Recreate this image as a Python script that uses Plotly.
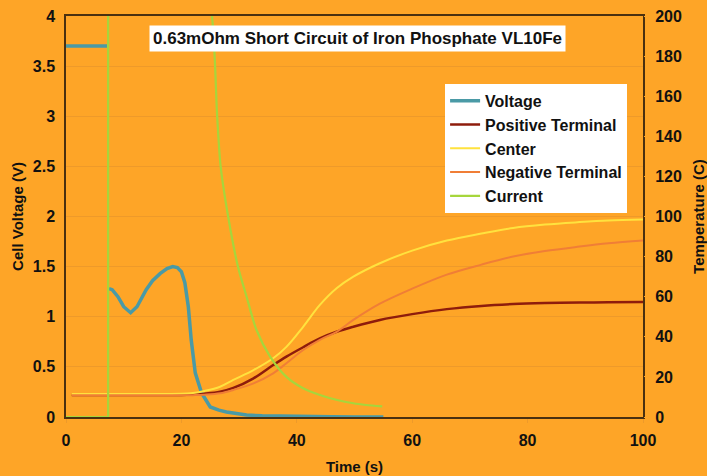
import plotly.graph_objects as go

# ---- data ----
volt_t = [0, 7.1, None, 7.45, 8.0, 9.0, 10.0, 11.2, 12.3, 13.9, 15.0, 16.3, 17.5, 18.5, 19.3, 20.0, 20.6, 21.2, 21.7, 22.4, 23.5, 25.0, 26.5, 27.8, 29.5, 31.3, 34, 38, 42, 46, 50, 55]
volt_v = [3.7, 3.7, None, 1.28, 1.27, 1.2, 1.1, 1.04, 1.1, 1.27, 1.36, 1.43, 1.48, 1.50, 1.49, 1.45, 1.34, 1.10, 0.77, 0.44, 0.24, 0.10, 0.068, 0.05, 0.032, 0.02, 0.012, 0.007, 0.004, 0.002, 0.001, 0.0]

temp_t = [1, 10, 20, 22, 24, 26.7, 29, 32.5, 35.9, 38.2, 41.1, 44, 46.9, 49.8, 54.4, 60, 66, 72, 77.5, 83, 89, 94, 100]
pos_term = [11, 11, 11, 11.2, 11.6, 12.6, 14.5, 19.3, 25.9, 30.1, 34.8, 39.2, 42.5, 45, 48.4, 51.3, 53.8, 55.4, 56.3, 56.8, 57.1, 57.2, 57.3]
center = [11.5, 11.5, 11.6, 12, 13, 15.1, 18.5, 23.4, 29.3, 35, 45, 55.9, 64.2, 70, 76.7, 83, 88, 91.5, 94.3, 96, 97.2, 98, 98.5]
neg_term = [10.8, 10.8, 10.8, 10.9, 11.1, 11.8, 13.5, 16.8, 21.8, 26.8, 33.4, 38.5, 42.5, 48.4, 56.5, 64, 71, 76, 80, 82.8, 85, 86.6, 88]

# current: onset step, then decay (values off-scale until ~25 s)
cur_t = [0, 7.3, 7.3, 20, 25.3, 26.2, 26.8, 28.1, 29.8, 31.3, 33.0, 35.4, 38.2, 41, 44, 47, 49.8, 52, 54.8]
cur_a = [0, 0, 9000, 6000, 4000, 3000, 2500, 2000, 1500, 1200, 870, 600, 400, 290, 220, 170, 137, 120, 105]

x_ticks = [0, 20, 40, 60, 80, 100]
yv_ticks = [0, 0.5, 1, 1.5, 2, 2.5, 3, 3.5, 4]
yt_ticks = [0, 20, 40, 60, 80, 100, 120, 140, 160, 180, 200]
title_text = "0.63mOhm Short Circuit of Iron Phosphate VL10Fe"

BG = "#FEA527"
GRID = "#EE9A2A"
FRAME = "#4A3010"
FONT = "Liberation Sans, Arial, sans-serif"
TXT = "#111111"


def b(s):
    return "<b>" + s + "</b>"


def fmt(v):
    return b(("%g" % v))


fig = go.Figure()
fig.add_trace(go.Scatter(x=volt_t, y=volt_v, name=b("Voltage"), mode="lines",
                         line=dict(color="#4A9AA6", width=3.5), connectgaps=False,
                         yaxis="y", legendgroup="a"))
fig.add_trace(go.Scatter(x=temp_t, y=pos_term, name=b("Positive Terminal"), mode="lines",
                         line=dict(color="#8E1C0C", width=2.5, shape="spline"), yaxis="y2", legendgroup="b"))
fig.add_trace(go.Scatter(x=temp_t, y=center, name=b("Center"), mode="lines",
                         line=dict(color="#FFE23E", width=2, shape="spline"), yaxis="y2", legendgroup="c"))
fig.add_trace(go.Scatter(x=temp_t, y=neg_term, name=b("Negative Terminal"), mode="lines",
                         line=dict(color="#F07E36", width=2, shape="spline"), yaxis="y2", legendgroup="d"))
fig.add_trace(go.Scatter(x=cur_t[:3], y=cur_a[:3], name=b("Current"), mode="lines",
                         line=dict(color="#A6D63C", width=2.2), yaxis="y3", legendgroup="e",
                         showlegend=False))
fig.add_trace(go.Scatter(x=cur_t[2:], y=cur_a[2:], name=b("Current"), mode="lines",
                         line=dict(color="#A6D63C", width=2.2, shape="spline", smoothing=0.8),
                         yaxis="y3", legendgroup="e"))

tickfont = dict(family=FONT, size=16, color=TXT)
titlefont = dict(family=FONT, size=15, color=TXT)

fig.update_layout(
    width=707, height=476,
    margin=dict(l=66, r=64, t=16, b=59, autoexpand=False),
    paper_bgcolor=BG, plot_bgcolor=BG,
    showlegend=True,
    legend=dict(x=0.657, y=0.831, xanchor="left", yanchor="top",
                bgcolor="white", bordercolor="white", borderwidth=0,
                font=dict(family=FONT, size=16, color=TXT),
                tracegroupgap=0, itemwidth=30),
    xaxis=dict(range=[0, 100], tickvals=x_ticks, ticktext=[fmt(v) for v in x_ticks],
               showgrid=False, zeroline=False, automargin=False,
               showline=True, linecolor=FRAME, linewidth=1.5, mirror=True,
               ticks="outside", ticklen=4, tickcolor=GRID, ticklabelstandoff=4,
               tickfont=tickfont,
               title=dict(text=b("Time (s)"), font=titlefont, standoff=14)),
    yaxis=dict(range=[0, 4], tickvals=yv_ticks, ticktext=[fmt(v) for v in yv_ticks],
               showgrid=True, gridcolor=GRID, gridwidth=1, automargin=False,
               zeroline=False, showline=True, linecolor=FRAME, linewidth=1.5, mirror=True,
               ticks="outside", ticklen=6, tickcolor=BG, tickfont=tickfont,
               title=dict(text=b("Cell Voltage (V)"), font=titlefont, standoff=6)),
    yaxis2=dict(range=[0, 200], tickvals=yt_ticks, ticktext=[fmt(v) for v in yt_ticks],
                overlaying="y", side="right", showgrid=False, automargin=False,
                zeroline=False, showline=False, ticks="outside", ticklen=8, tickcolor=BG,
                tickfont=tickfont,
                title=dict(text=b("Temperature (C)"), font=titlefont, standoff=14)),
    yaxis3=dict(range=[0, 4000], overlaying="y", visible=False),
)

fig.add_annotation(x=0.505, y=0.945, xref="paper", yref="paper", text=b(title_text),
                   xanchor="center", yanchor="middle",
                   showarrow=False, bgcolor="white", borderpad=3,
                   font=dict(family=FONT, size=17, color=TXT))

fig.write_html("out.html")
